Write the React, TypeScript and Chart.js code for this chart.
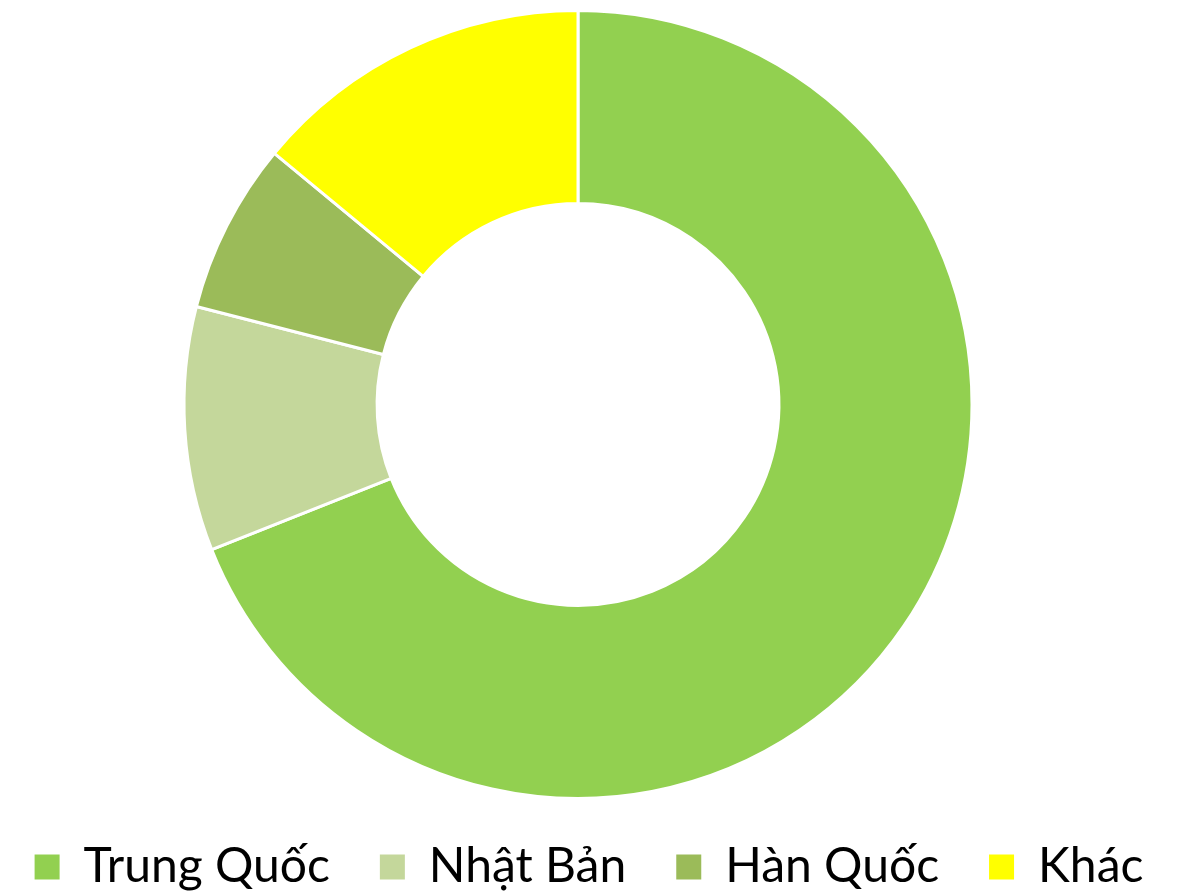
import React, { useEffect, useRef } from "react";
import { Chart, registerables } from "chart.js";

Chart.register(...registerables);

const categories = ["Trung Quốc", "Nhật Bản", "Hàn Quốc", "Khác"];
const values = [69, 10, 7, 14];
const colors = ["#92D050", "#C4D79B", "#9BBB59", "#FFFF00"];

const LEGEND_HEIGHT = 93;
const LEGEND_SHIFT_UP = 7;
const LEGEND_CENTER_X = 589;

const legendTweak = {
  id: "legendTweak",
  beforeInit(chart: any) {
    const legend = chart.legend;
    if (!legend) return;
    const origFit = legend.fit.bind(legend);
    legend.fit = function () {
      const mw = this.maxWidth;
      this.maxWidth = 5000;
      origFit();
      this.maxWidth = mw;
      this.width = mw;
      this.height = LEGEND_HEIGHT;
    };
    const origDraw = legend.draw.bind(legend);
    legend.draw = function () {
      const t = this.top, l = this.left, r = this.right;
      this.top = t - LEGEND_SHIFT_UP;
      this.left = LEGEND_CENTER_X - 2000;
      this.right = LEGEND_CENTER_X + 2000;
      origDraw();
      this.top = t;
      this.left = l;
      this.right = r;
    };
  },
};

export default function App() {
  const ref = useRef<HTMLCanvasElement>(null);
  useEffect(() => {
    if (!ref.current) return;
    const chart = new Chart(ref.current, {
      type: "doughnut",
      data: {
        labels: categories,
        datasets: [
          {
            data: values,
            backgroundColor: colors,
            borderColor: "#ffffff",
            borderWidth: 3,
          },
        ],
      },
      plugins: [legendTweak],
      options: {
        animation: false,
        responsive: true,
        maintainAspectRatio: false,
        cutout: "51%",
        layout: { padding: { top: 9, bottom: 0, left: 0, right: 28 } },
        plugins: {
          tooltip: { enabled: false },
          legend: {
            position: "bottom",
            labels: {
              boxWidth: 25,
              boxHeight: 25,
              padding: 50,
              color: "#000000",
              font: { family: "Lato, sans-serif", size: 48 },
              generateLabels: (c: any) =>
                Chart.overrides.doughnut.plugins.legend.labels
                  .generateLabels(c)
                  .map((l: any) => ({ ...l, lineWidth: 0 })),
            },
          },
        },
      },
    });
    return () => chart.destroy();
  }, []);
  return (
    <div style={{ position: "fixed", left: 0, top: 0, width: 1184, height: 893, background: "#fff" }}>
      <canvas ref={ref} />
    </div>
  );
}
